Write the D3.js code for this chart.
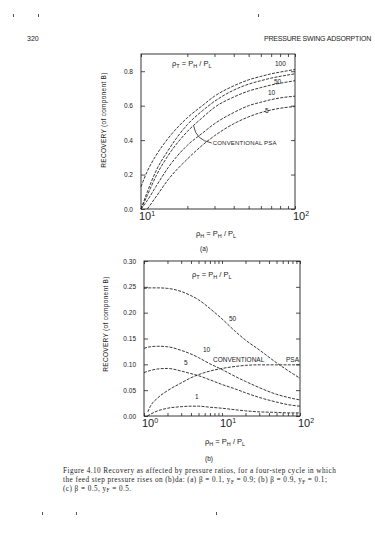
<!DOCTYPE html>
<html><head><meta charset="utf-8">
<script src="https://cdn.jsdelivr.net/npm/d3@7"></script>
<style>
html,body{margin:0;padding:0;background:#fff;}
svg text{font-family:"Liberation Sans","DejaVu Sans",sans-serif;fill:#222;}
</style></head>
<body><svg id="c" width="375" height="533"></svg>
<script>
// ---------- DATA ----------
// (a) top panel, rho_H from 10 to 100
const topX    = [10, 11, 12.5, 15, 20, 25, 30, 40, 50, 60, 70, 80, 100];
const topR100 = [0.13, 0.22, 0.31, 0.41, 0.53, 0.60, 0.655, 0.715, 0.75, 0.77, 0.785, 0.795, 0.81];
const topR50  = [0.0, 0.10, 0.22, 0.34, 0.49, 0.57, 0.625, 0.69, 0.725, 0.745, 0.76, 0.77, 0.785];
const topConv = [0.0, 0.08, 0.19, 0.31, 0.45, 0.53, 0.59, 0.65, 0.685, 0.705, 0.72, 0.73, 0.745];
const topR10  = [0.0, 0.05, 0.13, 0.24, 0.37, 0.44, 0.495, 0.56, 0.60, 0.62, 0.635, 0.645, 0.655];
const topR5X  = [11, 12.5, 15, 20, 25, 30, 40, 50, 60, 70, 80, 100];
const topR5   = [0.0, 0.07, 0.17, 0.29, 0.37, 0.425, 0.495, 0.535, 0.56, 0.575, 0.585, 0.595];
const topYTicks = [0.0, 0.2, 0.4, 0.6, 0.8];

// (b) bottom panel, rho_H from 1 to 100
const botX    = [1, 1.2, 1.5, 2, 3, 4, 5, 7, 10, 15, 20, 30, 50, 70, 100];
const botR50  = [0.247, 0.248, 0.248, 0.247, 0.241, 0.233, 0.225, 0.208, 0.188, 0.163, 0.147, 0.128, 0.103, 0.088, 0.073];
const botR10  = [0.131, 0.134, 0.135, 0.134, 0.127, 0.120, 0.113, 0.101, 0.090, 0.076, 0.067, 0.055, 0.042, 0.036, 0.031];
const botR5   = [0.084, 0.088, 0.091, 0.092, 0.087, 0.082, 0.078, 0.070, 0.061, 0.052, 0.045, 0.036, 0.027, 0.022, 0.019];
const botConvX = [1.12, 1.2, 1.5, 2, 3, 4, 5, 7, 10, 15, 20, 30, 50, 70, 100];
const botConv = [0.008, 0.018, 0.035, 0.049, 0.064, 0.074, 0.080, 0.087, 0.092, 0.096, 0.098, 0.099, 0.099, 0.099, 0.099];
const botR1X  = [1.1, 1.5, 2, 3, 4, 5, 7, 10, 15, 20, 30, 50, 70, 100];
const botR1   = [0.0, 0.010, 0.015, 0.018, 0.019, 0.019, 0.017, 0.015, 0.012, 0.010, 0.008, 0.007, 0.006, 0.006];
const botYTicks = [0.00, 0.05, 0.10, 0.15, 0.20, 0.25, 0.30];

// caption: each line is a list of [text, isSubscript]
const captionLines = [
  [["Figure 4.10   Recovery as affected by pressure ratios, for a four-step cycle in which", 0]],
  [["the feed step pressure rises on (b)da: (a) \u03B2 = 0.1, y", 0], ["F", 1], [" = 0.9; (b) \u03B2 = 0.9, y", 0], ["F", 1], [" = 0.1;", 0]],
  [["(c) \u03B2 = 0.5, y", 0], ["F", 1], [" = 0.5.", 0]]
];

// ---------- DRAW ----------
const svg = d3.select("#c");
const ink = "#222";

svg.append("text").attr("x", 27).attr("y", 41).attr("font-size", 7).text("320");
svg.append("text").attr("x", 371).attr("y", 41).attr("font-size", 7).attr("text-anchor", "end")
   .attr("letter-spacing", -0.2).text("PRESSURE SWING ADSORPTION");
// scan specks
[[13,14],[38,14],[258,14],[42,512],[76,512],[216,512]].forEach(p=>{
  svg.append("rect").attr("x",p[0]).attr("y",p[1]).attr("width",1).attr("height",3).attr("fill","#555");
});

function panel(opt) {
  const x = d3.scaleLog().domain(opt.xDomain).range([opt.left, opt.right]);
  const y = d3.scaleLinear().domain(opt.yDomain).range([opt.bottom, opt.top]);
  const g = svg.append("g");
  g.append("rect").attr("x", opt.left).attr("y", opt.top)
    .attr("width", opt.right - opt.left).attr("height", opt.bottom - opt.top)
    .attr("fill", "none").attr("stroke", ink).attr("stroke-width", 0.9);
  const minor = x.ticks();
  g.append("g").attr("transform", `translate(0,${opt.bottom})`)
    .call(d3.axisBottom(x).tickValues(minor).tickSize(-3).tickFormat(""));
  g.append("g").attr("transform", `translate(0,${opt.top})`)
    .call(d3.axisTop(x).tickValues(minor).tickSize(-3).tickFormat(""));
  g.append("g").attr("transform", `translate(${opt.left},0)`)
    .call(d3.axisLeft(y).tickValues(opt.yTicks).tickSize(-4).tickPadding(8).tickFormat(d3.format(opt.yFmt)));
  g.append("g").attr("transform", `translate(${opt.right},0)`)
    .call(d3.axisRight(y).tickValues(opt.yTicks).tickSize(-4).tickFormat(""));
  g.selectAll(".domain").remove();
  g.selectAll(".tick line").attr("stroke", ink).attr("stroke-width", 0.8);
  g.selectAll(".tick text").attr("font-size", 6.5).attr("fill", "#333")
    .attr("font-family", "Liberation Sans, sans-serif");
  opt.decades.forEach(d => {
    const t = g.append("text").attr("x", x(d.v) - 2).attr("y", opt.bottom + 11).attr("font-size", 11)
      .attr("fill", "#333");
    t.append("tspan").text("10");
    t.append("tspan").attr("dy", -4).attr("font-size", 7).text(d.e);
  });
  const line = d3.line().x(d => x(d[0])).y(d => y(d[1])).curve(d3.curveMonotoneX);
  opt.series.forEach(s => {
    g.append("path").datum(d3.zip(s.x, s.y)).attr("d", line)
      .attr("fill", "none").attr("stroke", ink).attr("stroke-width", 0.9)
      .attr("stroke-dasharray", "3,1.3");
  });
  g.append("text").attr("transform", `translate(${opt.ylabX},${opt.ylabY}) rotate(-90)`)
    .attr("text-anchor", "middle").attr("font-size", 6.5).attr("letter-spacing", 0.3)
    .text("RECOVERY  (of component B)");
  const sub = (sel, parts) => parts.forEach(p => {
    if (p.s) sel.append("tspan").attr("dy", 2).attr("font-size", 5.5).text(p.s);
    else sel.append("tspan").attr("dy", p.first ? 0 : -2).text(p.t);
  });
  sub(g.append("text").attr("x", opt.xlabX).attr("y", opt.xlabY).attr("font-size", 7.5),
      [{t: "\u03C1", first: true}, {s: "H"}, {t: " = P"}, {s: "H"}, {t: " / P"}, {s: "L"}]);
  sub(g.append("text").attr("x", opt.rtX).attr("y", opt.rtY).attr("font-size", 7.5),
      [{t: "\u03C1", first: true}, {s: "T"}, {t: " = P"}, {s: "H"}, {t: " / P"}, {s: "L"}]);
  g.append("text").attr("x", opt.letX).attr("y", opt.letY).attr("font-size", 6.5).text(opt.letter);
  opt.labels.forEach(l => {
    g.append("text").attr("x", l[0]).attr("y", l[1]).attr("font-size", 6.5).text(l[2]);
  });
  return {x, y, g};
}

const topPanel = panel({
  xDomain: [10, 100], yDomain: [0, 0.9], left: 141, right: 295, top: 54, bottom: 209,
  yTicks: topYTicks, yFmt: ".1f",
  decades: [{v: 10, e: "1"}, {v: 100, e: "2"}],
  series: [
    {x: topX, y: topR100}, {x: topX, y: topR50}, {x: topX, y: topConv},
    {x: topX, y: topR10}, {x: topR5X, y: topR5}
  ],
  ylabX: 106, ylabY: 120, xlabX: 196, xlabY: 236, rtX: 172, rtY: 66,
  letter: "(a)", letX: 200, letY: 251,
  labels: [[275, 66, "100"], [274, 84, "50"], [268, 95, "10"], [265, 113, "5"]]
});
{
  const px = topPanel.x(22), py = topPanel.y(topConv[4] + (topConv[5]-topConv[4])*0.4);
  topPanel.g.append("path").attr("d", `M${px},${py} Q${px+2},${py+14} ${px+18},${py+17}`)
    .attr("fill", "none").attr("stroke", ink).attr("stroke-width", 0.8);
  topPanel.g.append("text").attr("x", px + 19).attr("y", py + 19.5).attr("font-size", 6)
    .attr("letter-spacing", 0.2).text("CONVENTIONAL  PSA");
}

const botPanel = panel({
  xDomain: [1, 100], yDomain: [0, 0.30], left: 144, right: 300, top: 261, bottom: 416,
  yTicks: botYTicks, yFmt: ".2f",
  decades: [{v: 1, e: "0"}, {v: 10, e: "1"}, {v: 100, e: "2"}],
  series: [
    {x: botX, y: botR50}, {x: botX, y: botR10}, {x: botX, y: botR5},
    {x: botConvX, y: botConv}, {x: botR1X, y: botR1}
  ],
  ylabX: 108, ylabY: 324, xlabX: 205, xlabY: 444, rtX: 192, rtY: 277,
  letter: "(b)", letX: 205, letY: 461,
  labels: [[229, 321, "50"], [203, 352, "10"], [184, 365, "5"], [195, 399, "1"],
           [213, 362, "CONVENTIONAL"], [286, 362, "PSA"]]
});

captionLines.forEach((parts, i) => {
  const t = svg.append("text").attr("x", 63).attr("y", 473 + i * 8.8).attr("font-size", 7.2)
    .attr("letter-spacing", 0.45)
    .style("font-family", "Liberation Serif, serif");
  let wasSub = false;
  parts.forEach(([s, isSub]) => {
    const ts = t.append("tspan").text(s);
    if (isSub) { ts.attr("dy", 1.8).attr("font-size", 5.2); wasSub = true; }
    else if (wasSub) { ts.attr("dy", -1.8); wasSub = false; }
  });
});
</script></body></html>
